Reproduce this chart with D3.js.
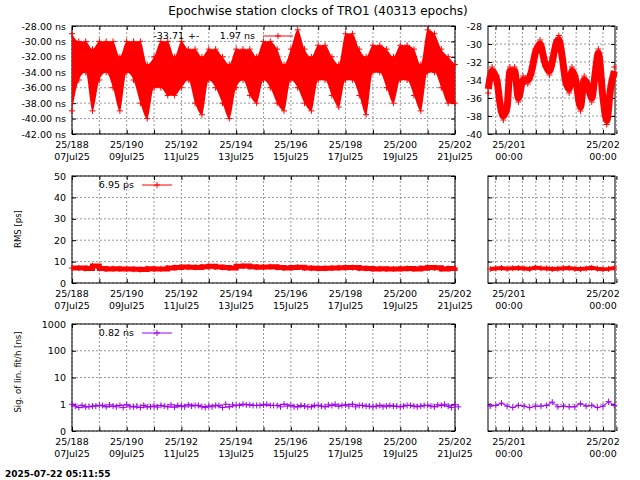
<!DOCTYPE html>
<html><head><meta charset="utf-8">
<script src="https://cdn.jsdelivr.net/npm/d3@7"></script>
<style>
body{margin:0;background:#fff}
text{font-family:"DejaVu Sans",sans-serif;font-size:9.5px;fill:#000}
.grid line{stroke:#999;stroke-dasharray:2,2}
</style></head><body>
<script>
// quarter-day samples, day 188.00 .. 202.00
var clkDays = d3.range(57).map(i => 188 + i * 0.25);
var clkHi = [-29,-30,-30,-31,-30,-30,-30,-32,-30,-30,-30,-33,-32,-30,-30,-32,-30,-31,-31,-32,-31,-31,-32,-33,
  -31,-31,-31,-32,-30,-30,-31,-33,-31,-28.5,-31,-32,-30.5,-30.5,-32,-33,-29,-29,-31,-32,-30.5,-30.5,-31,-32,
  -30.5,-30.5,-31,-33,-28.5,-29,-31,-32,-33];
var clkLo = [-39,-35,-34,-39,-35,-34,-36,-39,-34,-35,-38,-40,-36,-36,-37,-37,-36,-35,-38,-39.5,-35,-36,-38,-40,
  -36,-35,-37,-38,-35,-36,-38,-39,-35,-36,-38,-39,-35,-35,-37,-38.5,-35,-35,-37,-39.5,-34,-34,-36,-38,
  -35,-35,-37,-39,-34,-34,-36,-38,-38];
// zoom window, last ~1.3 days
var zDays = [200.78,200.82,200.87,200.91,200.94,200.98,201.01,201.06,201.1,201.15,201.2,201.24,201.28,201.33,
  201.38,201.43,201.46,201.5,201.53,201.56,201.6,201.64,201.67,201.71,201.76,201.8,201.85,201.88,201.92,201.95,
  202.0,202.04,202.08,202.12];
var zClk = [-35,-33,-34,-37,-38,-37,-33,-33,-36,-34,-34,-33,-31,-30,-32,-33,-32,-30,-29.5,-31,-34,-35,-33,-34,
  -37,-34,-35,-36,-33,-31,-36,-38.5,-35,-33];
var rmsDays = d3.range(57).map(i => 188 + i * 0.25);
var rms = [7,7,6.8,8,6.8,6.5,6.7,6.6,6.5,6.4,6.3,6.7,6.5,6.6,7,7.2,7.5,7.4,7.3,7.6,7.8,7.5,7.3,7,
  7.8,8,7.6,7.4,7.5,7.6,7.3,7,7.2,7.4,7,6.9,6.8,6.9,7,7.1,7.3,7.2,6.9,6.8,6.6,6.7,6.5,6.6,
  6.7,6.8,6.5,6.9,7.3,7.1,6.6,6.8,7];
var zRms = [6.5,6.8,7,6.7,6.9,7,6.8,6.6,7.2,6.9,6.8,6.5,6.7,6.9,7,6.6,6.5,6.8,7.1,6.7,6.4,6.6,7];
var sig = [1,0.75,0.8,0.85,0.9,0.8,0.85,0.9,0.95,0.8,0.75,0.8,0.85,0.9,0.8,0.78,0.85,0.95,0.9,0.8,0.85,0.9,0.75,0.8,
  0.9,1,0.95,0.9,0.95,0.9,0.9,1,0.9,0.8,0.85,0.8,0.9,0.8,0.9,0.85,0.95,1,0.9,0.85,0.8,0.9,0.85,0.85,
  0.8,0.9,0.85,0.85,0.9,0.8,0.9,0.85,0.95];
var zSig = [0.85,0.9,1.1,0.85,0.75,0.9,0.85,0.75,0.85,0.85,0.9,1.2,0.8,0.85,0.8,0.8,1.05,0.85,0.9,0.75,0.85,1.25,0.9];
var zSmall = d3.range(23).map(i => 200.8 + i * 0.06);
var leftTicks = d3.range(188, 203, 2);
var tickNames = ["07Jul25","09Jul25","11Jul25","13Jul25","15Jul25","17Jul25","19Jul25","21Jul25"];

var red = "#ff0000", violet = "#a000f0";
var svg = d3.select("body").append("svg").attr("width", 640).attr("height", 480);
svg.append("text").attr("x", 318).attr("y", 15).attr("text-anchor", "middle")
   .style("font-size", "12px").text("Epochwise station clocks of TRO1 (40313 epochs)");
svg.append("text").attr("x", 5).attr("y", 477).style("font-weight", "bold").style("font-size", "9px")
   .text("2025-07-22 05:11:55");

var xL = d3.scaleLinear().domain([188, 202]).range([72, 455]);
var xR = d3.scaleLinear().domain([201 - 21/94, 202 + 12/94]).range([488, 615]);
var rows = [[134, 26], [283, 176], [431, 324]];

function panel(x, y, xt, yt, yfmt, mid, labels) {
  var g = svg.append("g");
  var y0 = y.range()[0], y1 = y.range()[1];
  var gr = g.append("g").attr("class", "grid");
  xt.forEach(t => gr.append("line").attr("x1", x(t)).attr("x2", x(t)).attr("y1", y0).attr("y2", y1));
  yt.forEach(t => gr.append("line").attr("x1", x.range()[0]).attr("x2", x.range()[1]).attr("y1", y(t)).attr("y2", y(t)));
  g.append("g").attr("transform", "translate(" + x.range()[0] + ",0)")
   .call(d3.axisLeft(y).tickValues(yt).tickFormat(yfmt).tickSize(-4).tickPadding(6))
   .call(a => a.select(".domain").remove());
  g.append("g").attr("transform", "translate(" + x.range()[1] + ",0)")
   .call(d3.axisRight(y).tickValues(yt).tickFormat("").tickSize(-4)).call(a => a.select(".domain").remove());
  g.append("g").attr("transform", "translate(0," + y0 + ")")
   .call(d3.axisBottom(x).tickValues(xt).tickFormat("").tickSize(-4)).call(a => a.select(".domain").remove());
  g.append("g").attr("transform", "translate(0," + y1 + ")")
   .call(d3.axisTop(x).tickValues(xt).tickFormat("").tickSize(-4)).call(a => a.select(".domain").remove());
  g.selectAll(".tick text").style("font-size", "9.5px").style("font-family", "DejaVu Sans");
  g.append("rect").attr("x", x.range()[0]).attr("y", y1).attr("width", x.range()[1] - x.range()[0])
   .attr("height", y0 - y1).attr("fill", "none").attr("stroke", "#000");
  labels.forEach(l => {
    var t = g.append("text").attr("x", x(l[0])).attr("y", y0 + 14).attr("text-anchor", "middle");
    t.append("tspan").attr("x", x(l[0])).text(l[1]);
    t.append("tspan").attr("x", x(l[0])).attr("dy", 12).text(l[2]);
  });
  return g;
}
function plus(g, pts, color) {
  g.append("g").selectAll("path").data(pts).enter().append("path")
   .attr("d", d => "M" + (d[0] - 3) + "," + d[1] + "h6M" + d[0] + "," + (d[1] - 3) + "v6")
   .attr("stroke", color).attr("stroke-width", 1);
}
function legend(g, x, y, txt, color) {
  g.append("text").attr("x", x).attr("y", y + 3).attr("text-anchor", "end").text(txt);
  g.append("line").attr("x1", x + 8).attr("x2", x + 38).attr("y1", y).attr("y2", y).attr("stroke", color);
  plus(g, [[x + 23, y]], color);
}
var leftLabels = leftTicks.map((d, i) => [d, "25/" + d, tickNames[i]]);
var rightLabels = [[201, "25/201", "00:00"], [202, "25/202", "00:00"]];
var xtL = d3.range(188, 203), xtR = d3.range(0, 10).map(i => 201 - 1/7 + i / 7);

// clocks
var yC = d3.scaleLinear().domain([-42, -28]).range(rows[0]);
var g1 = panel(xL, yC, xtL, d3.range(-42, -27, 2), d => d.toFixed(2) + " ns", 0, leftLabels);
var clk = clkDays.map((d, i) => [d, clkHi[i], clkLo[i]]);
g1.append("path").datum(clk).attr("fill", red)
  .attr("d", d3.area().curve(d3.curveMonotoneX).x(d => xL(d[0])).y0(d => yC(d[2])).y1(d => yC(d[1])));
plus(g1, clk.flatMap(d => [[xL(d[0]), yC(d[1])], [xL(d[0]), yC(d[2])]]), red);
g1.append("text").attr("x", 184).attr("y", 39).attr("text-anchor", "end").text("-33.71");
g1.append("text").attr("x", 188).attr("y", 39).text("+-");
legend(g1, 255, 36, "1.97 ns", red);
var yCR = d3.scaleLinear().domain([-40, -28]).range(rows[0]);
var g1r = panel(xR, yCR, xtR, d3.range(-40, -27, 2), d => d, 0, []);
g1r.append("path").datum(zDays.map((d, i) => [d, zClk[i]])).attr("fill", "none").attr("stroke", red)
  .attr("stroke-width", 7).attr("d", d3.line().curve(d3.curveMonotoneX).x(d => xR(d[0])).y(d => yCR(d[1])));
plus(g1r, zDays.map((d, i) => [xR(d), yCR(zClk[i]) + 4]), red);
plus(g1r, zDays.map((d, i) => [xR(d), yCR(zClk[i]) - 4]), red);
svg.append("g").selectAll("text").data(rightLabels).enter().append("text")
  .attr("text-anchor", "middle").attr("x", d => xR(d[0])).attr("y", 148).text(d => d[1]);
svg.append("g").selectAll("text").data(rightLabels).enter().append("text")
  .attr("text-anchor", "middle").attr("x", d => xR(d[0])).attr("y", 160).text(d => d[2]);

// RMS
var yM = d3.scaleLinear().domain([0, 50]).range(rows[1]);
var g2 = panel(xL, yM, xtL, d3.range(0, 51, 10), d => d, 0, leftLabels);
g2.append("path").datum(rmsDays.map((d, i) => [d, rms[i]])).attr("fill", "none").attr("stroke", red)
  .attr("stroke-width", 5).attr("d", d3.line().curve(d3.curveStepAfter).x(d => xL(d[0])).y(d => yM(d[1])));
plus(g2, rmsDays.map((d, i) => [xL(d), yM(rms[i])]), red);
legend(g2, 134, 185, "6.95 ps", red);
var g2r = panel(xR, yM, xtR, d3.range(0, 51, 10), d => "", 0, rightLabels);
g2r.append("path").datum(zSmall.map((d, i) => [d, zRms[i]])).attr("fill", "none").attr("stroke", red)
  .attr("stroke-width", 4).attr("d", d3.line().x(d => xR(d[0])).y(d => yM(d[1])));
plus(g2r, zSmall.map((d, i) => [xR(d), yM(zRms[i])]), red);
svg.append("text").attr("transform", "translate(21,229) rotate(-90)").attr("text-anchor", "middle")
  .style("font-size", "8.5px").text("RMS [ps]");

// sigma
var yS = d3.scaleLog().domain([0.1, 1000]).range(rows[2]);
var g3 = panel(xL, yS, xtL, [0.1, 1, 10, 100, 1000], d => d < 1 ? "0" : d, 0, leftLabels);
g3.append("path").datum(rmsDays.map((d, i) => [d, sig[i]])).attr("fill", "none").attr("stroke", violet)
  .attr("d", d3.line().x(d => xL(d[0])).y(d => yS(d[1])));
plus(g3, rmsDays.map((d, i) => [xL(d), yS(sig[i])]), violet);
plus(g3, rmsDays.map((d, i) => [xL(d + 0.12), yS(sig[(i + 3) % 57])]), violet);
legend(g3, 134, 333, "0.82 ns", violet);
var g3r = panel(xR, yS, xtR, [0.1, 1, 10, 100, 1000], d => "", 0, rightLabels);
g3r.append("path").datum(zSmall.map((d, i) => [d, zSig[i]])).attr("fill", "none").attr("stroke", violet)
  .attr("d", d3.line().x(d => xR(d[0])).y(d => yS(d[1])));
plus(g3r, zSmall.map((d, i) => [xR(d), yS(zSig[i])]), violet);
svg.append("text").attr("transform", "translate(21,372) rotate(-90)").attr("text-anchor", "middle")
  .style("font-size", "8.5px").text("Sig. of lin. fit/h [ns]");
</script></body></html>
